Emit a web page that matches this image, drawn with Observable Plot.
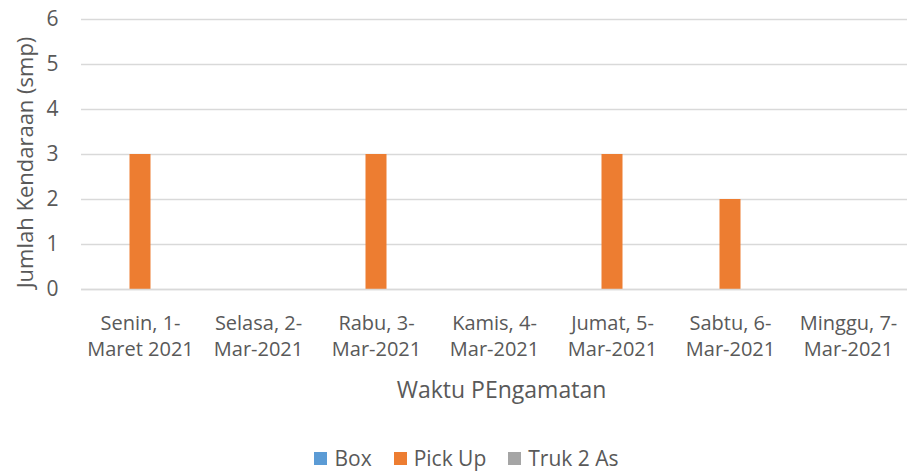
<!DOCTYPE html>
<html>
<head>
<meta charset="utf-8">
<script src="https://cdn.jsdelivr.net/npm/d3@7"></script>
<script src="https://cdn.jsdelivr.net/npm/@observablehq/plot@0.6"></script>
<style>
  html, body { margin: 0; padding: 0; background: #fff; }
  body { width: 919px; height: 471px; overflow: hidden; font-family: "Open Sans", sans-serif; }
  #chart svg { display: block; }
  #legend { display: flex; justify-content: center; gap: 22px; margin-top: 34px; padding-left: 14px; font-size: 21px; line-height: 28px; color: #595959; }
  #legend span.item { display: flex; align-items: center; gap: 7px; }
  #legend span.sw { width: 13px; height: 13px; display: inline-block; }
</style>
</head>
<body>
<div id="chart"></div>
<div id="legend"></div>
<script>
const days = ["Senin, 1-\nMaret 2021", "Selasa, 2-\nMar-2021", "Rabu, 3-\nMar-2021", "Kamis, 4-\nMar-2021", "Jumat, 5-\nMar-2021", "Sabtu, 6-\nMar-2021", "Minggu, 7-\nMar-2021"];
const seriesNames = ["Box", "Pick Up", "Truk 2 As"];
const box = [0, 0, 0, 0, 0, 0, 0];
const pickUp = [3, 0, 3, 0, 3, 2, 0];
const truk2As = [0, 0, 0, 0, 0, 0, 0];
const colors = ["#5B9BD5", "#ED7D31", "#A5A5A5"];
const yTicks = [0, 1, 2, 3, 4, 5, 6];

const values = [box, pickUp, truk2As];
const seriesData = values.map((vals, j) => days.map((d, i) => ({day: d, series: seriesNames[j], value: vals[i]})));

const W = 919, ML = 81, MR = 12;
const band = (W - ML - MR) / days.length;
const barW = 21;
const inset = (band - barW) / 2;

const chart = Plot.plot({
  width: W,
  height: 410,
  marginLeft: ML,
  marginRight: MR,
  marginTop: 19,
  marginBottom: 121,
  style: {fontFamily: "'Open Sans', sans-serif", fontSize: "20px", color: "#595959", background: "#fff"},
  x: {domain: days, padding: 0, label: null},
  y: {domain: [0, 6], ticks: yTicks, label: null},
  color: {domain: seriesNames, range: colors},
  marks: [
    Plot.gridY(yTicks, {stroke: "#D9D9D9", strokeOpacity: 1, strokeWidth: 1.3}),
    Plot.axisY(yTicks, {tickSize: 0, tickPadding: 23, fontSize: 21, fill: "#595959", label: null}),
    Plot.axisX({tickSize: 0, tickPadding: 22, fontSize: 20, fill: "#595959", lineHeight: 1.3, label: null}),
    ...seriesData.map((sd, j) => Plot.barY(sd, {x: "day", y: "value", fill: "series", insetLeft: inset, insetRight: inset, dx: (j - 1) * barW})),
    Plot.ruleY([0], {stroke: "#D9D9D9", strokeWidth: 1.3}),
    Plot.text(["Waktu PEngamatan"], {frameAnchor: "bottom", lineAnchor: "middle", dx: 7, dy: 101, fontSize: 23, fill: "#595959"}),
    Plot.text(["Jumlah Kendaraan (smp)"], {frameAnchor: "left", textAnchor: "middle", lineAnchor: "middle", dx: -56, dy: 8, rotate: -90, fontSize: 22, fill: "#595959"})
  ]
});
document.getElementById("chart").appendChild(chart);

const legend = document.getElementById("legend");
seriesNames.forEach((s, i) => {
  const item = document.createElement("span");
  item.className = "item";
  const sw = document.createElement("span");
  sw.className = "sw";
  sw.style.background = colors[i];
  item.appendChild(sw);
  item.appendChild(document.createTextNode(s));
  legend.appendChild(item);
});
</script>
</body>
</html>
